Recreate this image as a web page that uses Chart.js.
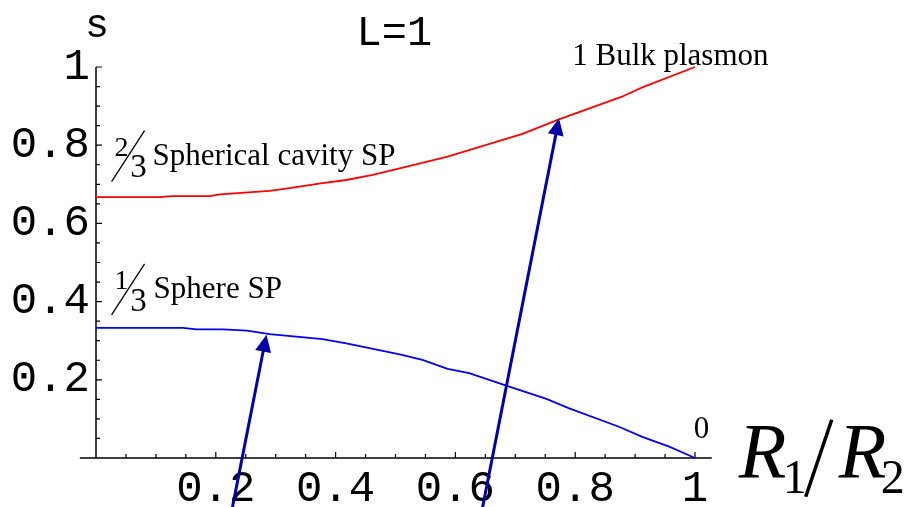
<!DOCTYPE html>
<html>
<head>
<meta charset="utf-8">
<title>Surface plasmons of a shell, L=1</title>
<script src="https://cdn.jsdelivr.net/npm/chart.js@4/dist/chart.umd.min.js"></script>
<style>
  html, body { margin: 0; padding: 0; background: #fff; }
  #wrap { width: 910px; height: 507px; }
</style>
</head>
<body>
<div id="wrap"><canvas id="plot" width="910" height="507"></canvas></div>
<script>
// ---- values ----
// upper branch (spherical cavity SP -> bulk plasmon)
const cavityR = [0, 0.107, 0.126, 0.19, 0.207, 0.29, 0.323, 0.378, 0.418, 0.462, 0.507, 0.587, 0.712, 0.773, 0.878, 0.912, 1.0];
const cavityS = [0.667, 0.667, 0.670, 0.670, 0.674, 0.683, 0.690, 0.703, 0.711, 0.724, 0.741, 0.771, 0.829, 0.866, 0.924, 0.948, 1.0];
// lower branch (sphere SP -> 0)
const sphereR = [0, 0.145, 0.168, 0.212, 0.252, 0.29, 0.378, 0.418, 0.507, 0.545, 0.587, 0.623, 0.685, 0.752, 0.79, 0.873, 0.912, 0.957, 1.0];
const sphereS = [0.333, 0.333, 0.329, 0.329, 0.326, 0.317, 0.304, 0.293, 0.265, 0.251, 0.228, 0.217, 0.185, 0.151, 0.127, 0.080, 0.054, 0.029, 0.0];

const xTickValues = [0.2, 0.4, 0.6, 0.8, 1];
const xTickLabels = ["0.2", "0.4", "0.6", "0.8", "1"];
const yTickValues = [0.2, 0.4, 0.6, 0.8, 1];
const yTickLabels = ["0.2", "0.4", "0.6", "0.8", "1"];
const minorTicks = [0.05, 0.1, 0.15, 0.2, 0.25, 0.3, 0.35, 0.4, 0.45, 0.5,
                    0.55, 0.6, 0.65, 0.7, 0.75, 0.8, 0.85, 0.9, 0.95, 1];

// arrows, [R1/R2, s] from tail to head
const arrowTails = [[0.226, -0.14], [0.6436, -0.14]];
const arrowHeads = [[0.2845, 0.315], [0.773, 0.869]];

const curveNames = ["Spherical cavity SP", "Sphere SP", "Bulk plasmon"];
const limitValues = ["2", "3", "1", "3", "1", "0"];
const plotTitle = "L=1";
const yTitle = "s";

const SERIF = "'Liberation Serif', 'Times New Roman', serif";
const MONO = "'Liberation Mono', 'Courier New', monospace";

function toPoints(xs, ys) {
  return xs.map((x, i) => ({ x: x, y: ys[i] }));
}

function isMajor(v, majors) {
  return majors.some((m) => Math.abs(m - v) < 1e-6);
}

// little helpers for the canvas text
function put(ctx, str, x, y, font, align, baseline) {
  ctx.font = font;
  ctx.textAlign = align || "left";
  ctx.textBaseline = baseline || "alphabetic";
  ctx.fillText(str, x, y);
}

function fraction(ctx, px, py, num, den) {
  ctx.beginPath();
  ctx.moveTo(px, py);
  ctx.lineTo(px + 33, py - 51);
  ctx.lineWidth = 1.3;
  ctx.strokeStyle = "#000";
  ctx.stroke();
  put(ctx, num, px + 10, py - 33, "28px " + SERIF, "center", "middle");
  put(ctx, den, px + 27, py - 13, "33px " + SERIF, "center", "middle");
}

// Mathematica-style axes: inward ticks, x axis a bit longer than the data range
const axesPlugin = {
  id: "axesPlugin",
  beforeDatasetsDraw(chart) {
    const ctx = chart.ctx;
    const xs = chart.scales.x;
    const ys = chart.scales.y;
    const x0 = xs.getPixelForValue(0);
    const y0 = ys.getPixelForValue(0);
    ctx.save();
    ctx.strokeStyle = "#000";
    ctx.lineWidth = 1.5;
    ctx.beginPath();
    ctx.moveTo(xs.getPixelForValue(-0.027), y0);
    ctx.lineTo(xs.getPixelForValue(1.028), y0);
    ctx.moveTo(x0, y0);
    ctx.lineTo(x0, ys.getPixelForValue(1));
    ctx.stroke();

    ctx.lineWidth = 1.2;
    ctx.beginPath();
    minorTicks.forEach((v) => {
      const lx = isMajor(v, xTickValues) ? 6 : 4;
      const px = xs.getPixelForValue(v);
      ctx.moveTo(px, y0);
      ctx.lineTo(px, y0 - lx);
      const ly = isMajor(v, yTickValues) ? 6 : 4;
      const py = ys.getPixelForValue(v);
      ctx.moveTo(x0, py);
      ctx.lineTo(x0 + ly, py);
    });
    ctx.stroke();
    ctx.restore();
  },
  afterDatasetsDraw(chart) {
    const ctx = chart.ctx;
    const xs = chart.scales.x;
    const ys = chart.scales.y;
    const px = (v) => xs.getPixelForValue(v);
    const py = (v) => ys.getPixelForValue(v);
    ctx.save();
    ctx.fillStyle = "#000";

    // titles
    put(ctx, yTitle, px(0.0017), py(1.077), "40px " + MONO, "center");
    put(ctx, plotTitle, px(0.498), py(1.056), "42px " + MONO, "center");

    // branch labels with their limits
    fraction(ctx, px(0.026), py(0.707), limitValues[0], limitValues[1]);
    put(ctx, curveNames[0], px(0.026) + 41, py(0.707) - 17, "31px " + SERIF);
    fraction(ctx, px(0.026), py(0.366), limitValues[2], limitValues[3]);
    put(ctx, curveNames[1], px(0.026) + 42, py(0.366) - 17, "31px " + SERIF);
    put(ctx, limitValues[4] + " " + curveNames[2], px(0.795), py(1.005), "31px " + SERIF);
    put(ctx, limitValues[5], px(0.998), py(0.051), "31px " + SERIF);

    // x axis label R1/R2
    const rx = px(1.073);
    const ry = py(-0.048);
    put(ctx, "R", rx, ry, "italic 78px " + SERIF);
    put(ctx, "1", rx + 44, ry + 16, "48px " + SERIF);
    put(ctx, "R", rx + 100, ry, "italic 78px " + SERIF);
    put(ctx, "2", rx + 142, ry + 16, "48px " + SERIF);
    ctx.beginPath();
    ctx.moveTo(rx + 67, ry + 20);
    ctx.lineTo(rx + 93, ry - 57);
    ctx.lineWidth = 3.5;
    ctx.strokeStyle = "#000";
    ctx.stroke();

    // arrows
    ctx.strokeStyle = "#0000a6";
    ctx.fillStyle = "#0000a6";
    arrowTails.forEach((t, i) => {
      const h = arrowHeads[i];
      const x1 = px(t[0]), y1 = py(t[1]);
      const x2 = px(h[0]), y2 = py(h[1]);
      const len = Math.hypot(x2 - x1, y2 - y1);
      const ux = (x2 - x1) / len, uy = (y2 - y1) / len;
      const headLen = 17, headHalf = 8;
      const bx = x2 - ux * headLen, by = y2 - uy * headLen;
      ctx.beginPath();
      ctx.moveTo(x1, y1);
      ctx.lineTo(bx + ux, by + uy);
      ctx.lineWidth = 3;
      ctx.stroke();
      ctx.beginPath();
      ctx.moveTo(x2, y2);
      ctx.lineTo(bx - uy * headHalf, by + ux * headHalf);
      ctx.lineTo(bx + uy * headHalf, by - ux * headHalf);
      ctx.closePath();
      ctx.fill();
    });
    ctx.restore();
  },
};

const ctx = document.getElementById("plot").getContext("2d");
new Chart(ctx, {
  type: "line",
  data: {
    datasets: [
      {
        label: curveNames[0],
        data: toPoints(cavityR, cavityS),
        borderColor: "#ff0000",
        borderWidth: 1.8,
        pointRadius: 0,
        tension: 0,
        clip: false,
      },
      {
        label: curveNames[1],
        data: toPoints(sphereR, sphereS),
        borderColor: "#0000ff",
        borderWidth: 1.8,
        pointRadius: 0,
        tension: 0,
        clip: false,
      },
    ],
  },
  options: {
    responsive: false,
    animation: false,
    events: [],
    layout: { padding: { top: 67, right: 215, left: 0, bottom: 0 } },
    plugins: {
      legend: { display: false },
      tooltip: { enabled: false },
    },
    scales: {
      x: {
        type: "linear",
        min: 0,
        max: 1,
        border: { display: false },
        grid: { display: false, drawTicks: false, tickLength: 0 },
        afterBuildTicks: (scale) => {
          scale.ticks = xTickValues.map((v) => ({ value: v }));
        },
        afterFit: (scale) => {
          scale.height = 49;
        },
        ticks: {
          autoSkip: false,
          maxRotation: 0,
          padding: 5,
          color: "#000",
          font: { family: MONO, size: 44 },
          callback: (v) => xTickLabels[xTickValues.indexOf(v)] ?? "",
        },
      },
      y: {
        type: "linear",
        min: 0,
        max: 1,
        border: { display: false },
        grid: { display: false, drawTicks: false, tickLength: 0 },
        afterBuildTicks: (scale) => {
          scale.ticks = yTickValues.map((v) => ({ value: v }));
        },
        afterFit: (scale) => {
          scale.width = 96;
        },
        ticks: {
          autoSkip: false,
          padding: 6,
          color: "#000",
          font: { family: MONO, size: 44 },
          callback: (v) => yTickLabels[yTickValues.indexOf(v)] ?? "",
        },
      },
    },
  },
  plugins: [axesPlugin],
});
</script>
</body>
</html>
